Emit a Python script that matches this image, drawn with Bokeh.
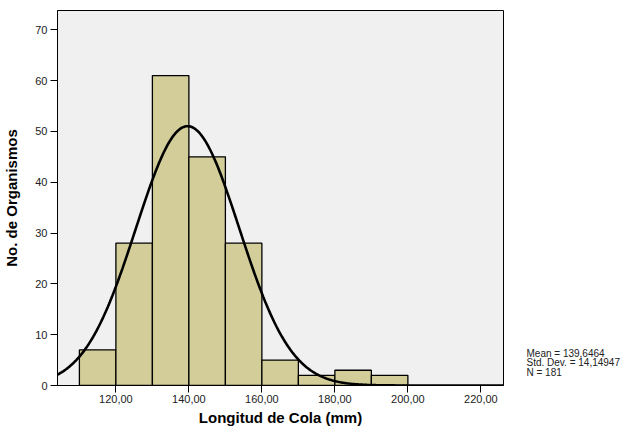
import numpy as np
from bokeh.plotting import figure
from bokeh.layouts import row
from bokeh.models import Range1d, FixedTicker, CustomJSTickFormatter
from bokeh.core.properties import value
from bokeh.embed import file_html
from bokeh.resources import INLINE

bin_left = [110, 120, 130, 140, 150, 160, 170, 180, 190]
bin_right = [120, 130, 140, 150, 160, 170, 180, 190, 200]
counts = [7, 28, 61, 45, 28, 5, 2, 3, 2]
mean = 139.6464
std = 14.14947
n = 181
bin_width = 10
x_ticks = [120, 140, 160, 180, 200, 220]
y_ticks = [0, 10, 20, 30, 40, 50, 60, 70]
stats_lines = ["Mean = 139,6464", "Std. Dev. = 14,14947", "N = 181"]

FONT = "Liberation Sans"
H = 428

p = figure(width=505, height=H, output_backend="svg", toolbar_location=None,
           x_range=Range1d(104, 226.2), y_range=Range1d(0, 73.8),
           min_border_left=55, min_border_right=2, min_border_top=10, min_border_bottom=42)
p.background_fill_color = "#F0F0F0"
p.border_fill_color = "white"
p.outline_line_color = "black"
p.outline_line_width = 1
p.grid.visible = False

p.quad(left=bin_left, right=bin_right, bottom=0, top=counts,
       fill_color="#D3CE99", line_color="black", line_width=1.3)

xs = np.linspace(104, 226.2, 400)
ys = n * bin_width * np.exp(-0.5 * ((xs - mean) / std) ** 2) / (std * np.sqrt(2 * np.pi))
p.line(xs, ys, line_color="black", line_width=2.6)

for ax in (p.xaxis[0], p.yaxis[0]):
    ax.axis_line_color = "black"
    ax.major_tick_line_color = "black"
    ax.major_tick_out = 7
    ax.major_tick_in = 0
    ax.minor_tick_line_color = None
    ax.major_label_text_font = FONT
    ax.major_label_text_font_size = "11px"
    ax.major_label_text_color = "#222222"
    ax.axis_label_text_font = FONT
    ax.axis_label_text_font_style = "bold"
    ax.axis_label_text_font_size = "15px"
    ax.axis_label_text_color = "black"

p.xaxis.ticker = FixedTicker(ticks=x_ticks)
p.yaxis.ticker = FixedTicker(ticks=y_ticks)
p.xaxis.formatter = CustomJSTickFormatter(code="return tick.toFixed(2).replace('.', ',');")
p.xaxis.axis_label = "Longitud de Cola (mm)"
p.yaxis.axis_label = "No. de Organismos"
p.xaxis.major_label_standoff = 2
p.yaxis.major_label_standoff = 3
p.xaxis.axis_label_standoff = 3
p.yaxis.axis_label_standoff = 12

# side panel with the summary statistics (pixel coordinates, origin bottom-left)
s = figure(width=116, height=H, output_backend="svg", toolbar_location=None,
           title=None, x_range=Range1d(0, 116), y_range=Range1d(0, H),
           x_axis_location=None, y_axis_location=None,
           min_border=0, min_border_left=0, min_border_right=0,
           min_border_top=0, min_border_bottom=0)
s.grid.visible = False
s.outline_line_color = None
s.background_fill_color = "white"
s.border_fill_color = "white"
s.text(x=[21, 21, 21], y=[37, 26, 15], text=stats_lines,
       text_font=value(FONT), text_font_size="10px", text_baseline="middle",
       text_color="#222222")

layout = row(p, s)
open("out.html", "w").write(file_html(layout, INLINE))
